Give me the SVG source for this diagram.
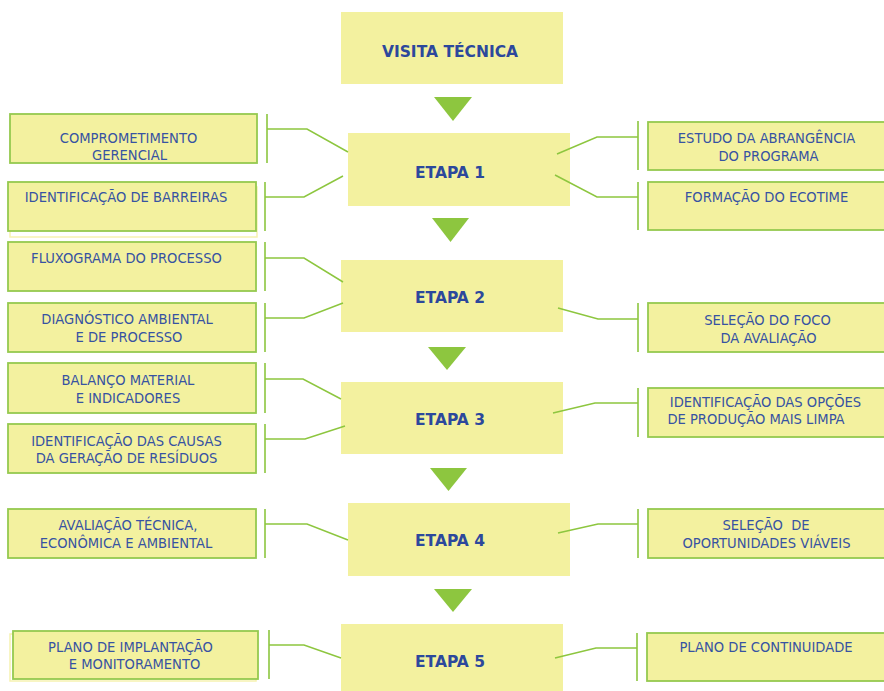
<svg xmlns="http://www.w3.org/2000/svg" width="884" height="691" viewBox="0 0 884 691">
<style>
.main{fill:#F3F19F;}
.box{fill:#F3F19F;stroke:#95C94F;stroke-width:1.8;}
.ghost{fill:none;stroke:#F6F2B0;stroke-width:1.5;}
.bar{stroke:#A3D165;stroke-width:2;fill:none;}
.con{stroke:#8DC63F;stroke-width:1.5;fill:none;}
.arr{fill:#8DC63F;}
.t{font-family:"DejaVu Sans Condensed","DejaVu Sans",sans-serif;font-stretch:condensed;font-size:14.6px;fill:#3753A2;text-anchor:middle;}
.b{font-family:"DejaVu Sans",sans-serif;font-weight:bold;font-size:15.5px;fill:#2C489C;text-anchor:middle;}
</style>
<rect width="884" height="691" fill="#FFFFFF"/>

<g id="visita"><rect class="main" x="341" y="12" width="222" height="72"/><text class="b" x="450" y="57">VISITA TÉCNICA</text></g>
<g id="etapa1"><rect class="main" x="348" y="133" width="222" height="73"/><text class="b" x="450" y="178">ETAPA 1</text></g>
<g id="etapa2"><rect class="main" x="341" y="260" width="222" height="72"/><text class="b" x="450" y="303">ETAPA 2</text></g>
<g id="etapa3"><rect class="main" x="341" y="382" width="222" height="72"/><text class="b" x="450" y="425">ETAPA 3</text></g>
<g id="etapa4"><rect class="main" x="348" y="503" width="222" height="73"/><text class="b" x="450" y="546">ETAPA 4</text></g>
<g id="etapa5"><rect class="main" x="341" y="624" width="222" height="70"/><text class="b" x="450" y="667">ETAPA 5</text></g>

<g id="arrows">
<polygon class="arr" points="434,97 472,97 453,121"/>
<polygon class="arr" points="432,218 469,218 450.5,242"/>
<polygon class="arr" points="428,347 466,347 447,370"/>
<polygon class="arr" points="430,468 467,468 448.5,491"/>
<polygon class="arr" points="434,589 472,589 453,612"/>
</g>

<g id="connectors">
<path class="bar" d="M267,114V163M265,182V231M265,242V291M265,303V352M265,363V413M265,424V473M265,509V558M269,630V679"/>
<path class="bar" d="M638,121V170M638,182V230M638,303V352M638,388V437M638,509V558M637,633V681"/>
<path class="con" d="M267,129H307L348,152"/>
<path class="con" d="M265,197H304L343,176"/>
<path class="con" d="M265,258H304L343,282"/>
<path class="con" d="M265,318H304L343,303"/>
<path class="con" d="M265,379H303L341,399"/>
<path class="con" d="M265,439H305L345,426"/>
<path class="con" d="M265,524H307L348,540"/>
<path class="con" d="M269,645H304L341,658"/>
<path class="con" d="M638,137H597L557,154"/>
<path class="con" d="M638,197H597L555,175"/>
<path class="con" d="M638,319H598L558,308"/>
<path class="con" d="M638,403H595L553,413"/>
<path class="con" d="M638,524H598L558,533"/>
<path class="con" d="M637,648H596L555,658"/>
</g>

<g id="l1"><rect class="box" x="10" y="114" width="247" height="49"/><text class="t" x="128.5" y="143">COMPROMETIMENTO</text><text class="t" x="129.5" y="160">GERENCIAL</text></g>
<g id="l2"><rect class="ghost" x="10" y="187" width="247" height="50"/><rect class="box" x="8" y="182" width="248" height="49"/><text class="t" x="126" y="202">IDENTIFICAÇÃO DE BARREIRAS</text></g>
<g id="l3"><rect class="box" x="8" y="242" width="248" height="49"/><text class="t" x="126.5" y="263">FLUXOGRAMA DO PROCESSO</text></g>
<g id="l4"><rect class="box" x="8" y="303" width="248" height="49"/><text class="t" x="127" y="324">DIAGNÓSTICO AMBIENTAL</text><text class="t" x="129" y="342">E DE PROCESSO</text></g>
<g id="l5"><rect class="box" x="8" y="363" width="248" height="50"/><text class="t" x="128" y="385">BALANÇO MATERIAL</text><text class="t" x="128" y="403">E INDICADORES</text></g>
<g id="l6"><rect class="box" x="8" y="424" width="248" height="49"/><text class="t" x="126.5" y="446">IDENTIFICAÇÃO DAS CAUSAS</text><text class="t" x="126.5" y="463">DA GERAÇÃO DE RESÍDUOS</text></g>
<g id="l7"><rect class="box" x="8" y="509" width="248" height="49"/><text class="t" x="128" y="530">AVALIAÇÃO TÉCNICA,</text><text class="t" x="126" y="548">ECONÔMICA E AMBIENTAL</text></g>
<g id="l8"><rect class="ghost" x="10" y="634" width="246" height="47"/><rect class="box" x="13" y="631" width="245" height="48"/><text class="t" x="130.5" y="652">PLANO DE IMPLANTAÇÃO</text><text class="t" x="134.5" y="669">E MONITORAMENTO</text></g>

<g id="r1"><rect class="box" x="648" y="122" width="245" height="48"/><text class="t" x="766.5" y="143">ESTUDO DA ABRANGÊNCIA</text><text class="t" x="768.5" y="161">DO PROGRAMA</text></g>
<g id="r2"><rect class="box" x="648" y="182" width="245" height="48"/><text class="t" x="766.5" y="202">FORMAÇÃO DO ECOTIME</text></g>
<g id="r3"><rect class="box" x="648" y="303" width="245" height="49"/><text class="t" x="767.5" y="325">SELEÇÃO DO FOCO</text><text class="t" x="768.5" y="343">DA AVALIAÇÃO</text></g>
<g id="r4"><rect class="box" x="648" y="388" width="245" height="49"/><text class="t" x="765.5" y="407">IDENTIFICAÇÃO DAS OPÇÕES</text><text class="t" x="756" y="424">DE PRODUÇÃO MAIS LIMPA</text></g>
<g id="r5"><rect class="box" x="648" y="509" width="245" height="49"/><text class="t" x="766" y="530" xml:space="preserve" style="white-space:pre">SELEÇÃO  DE</text><text class="t" x="766.5" y="548">OPORTUNIDADES VIÁVEIS</text></g>
<g id="r6"><rect class="box" x="647" y="633" width="246" height="48"/><text class="t" x="766" y="652">PLANO DE CONTINUIDADE</text></g>
</svg>
